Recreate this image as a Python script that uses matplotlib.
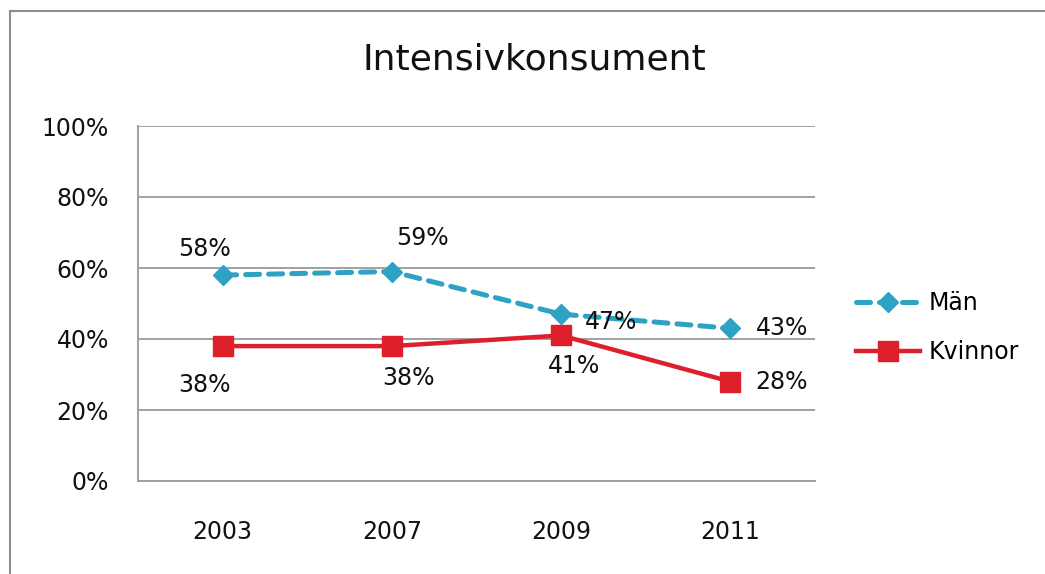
import matplotlib
matplotlib.use("Agg")
import matplotlib.pyplot as plt
from matplotlib.lines import Line2D

years = ["2003", "2007", "2009", "2011"]
man = [58, 59, 47, 43]
kvinnor = [38, 38, 41, 28]
yticks = [0, 20, 40, 60, 80, 100]
title = "Intensivkonsument"

man_offsets = [(-13, 19), (22, 24), (36, -6), (37, 0)]
kv_offsets = [(-13, -28), (12, -23), (9, -22), (37, 0)]

plt.rcParams['font.family'] = ['DejaVu Sans']
fig = plt.figure(figsize=(10.45, 5.74), dpi=100)
ax = fig.add_axes([138/1045, 1-481/574, 677/1045, 355/574])

x = list(range(len(years)))
c_man = "#2EA2C2"
c_kv = "#DD1F2B"
ax.plot(x, man, color=c_man, lw=3.6, ls=(0, (2.8, 1.8)), marker="D", ms=10.5,
        dash_capstyle="round", label="Män", zorder=3)
ax.plot(x, kvinnor, color=c_kv, lw=3.2, marker="s", ms=14.5, label="Kvinnor", zorder=3)

fs = 17
for xi, v, off in zip(x, man, man_offsets):
    ax.annotate(f"{v}%", (xi, v), xytext=off, textcoords="offset points",
                ha="center", va="center", fontsize=fs, color="#111111")
for xi, v, off in zip(x, kvinnor, kv_offsets):
    ax.annotate(f"{v}%", (xi, v), xytext=off, textcoords="offset points",
                ha="center", va="center", fontsize=fs, color="#111111")

ax.set_xlim(-0.5, 3.5)
ax.set_ylim(0, 100)
ax.set_yticks(yticks)
ax.set_yticklabels([f"{t}%" for t in yticks])
ax.set_xticks(x)
ax.set_xticklabels(years)
ax.tick_params(axis="both", length=0, labelsize=fs, colors="#111111")
ax.tick_params(axis="y", pad=21)
ax.tick_params(axis="x", pad=28)
ax.grid(axis="y", color="#A0A0A0", lw=1.4)
ax.set_axisbelow(True)
for s in ["top", "right"]:
    ax.spines[s].set_visible(False)
for s in ["left", "bottom"]:
    ax.spines[s].set_color("#A0A0A0")
    ax.spines[s].set_linewidth(1.4)

fig.text(534/1045, 1-60/574, title, ha="center", va="center", fontsize=26, color="#111111")

handles, labels = ax.get_legend_handles_labels()
fig.legend(handles, labels, loc="upper left", bbox_to_anchor=(835/1045, 1-270/574),
           frameon=False, fontsize=fs, handlelength=2.7, labelspacing=1.05, handletextpad=0.35)

# outer chart border (left and top)
fig.add_artist(Line2D([10/1045, 10/1045], [0, 1-11/574], transform=fig.transFigure,
                      color="#8C8C8C", lw=1.5))
fig.add_artist(Line2D([10/1045, 1], [1-11/574, 1-11/574], transform=fig.transFigure,
                      color="#8C8C8C", lw=1.5))

fig.savefig("out.png", dpi=100)
